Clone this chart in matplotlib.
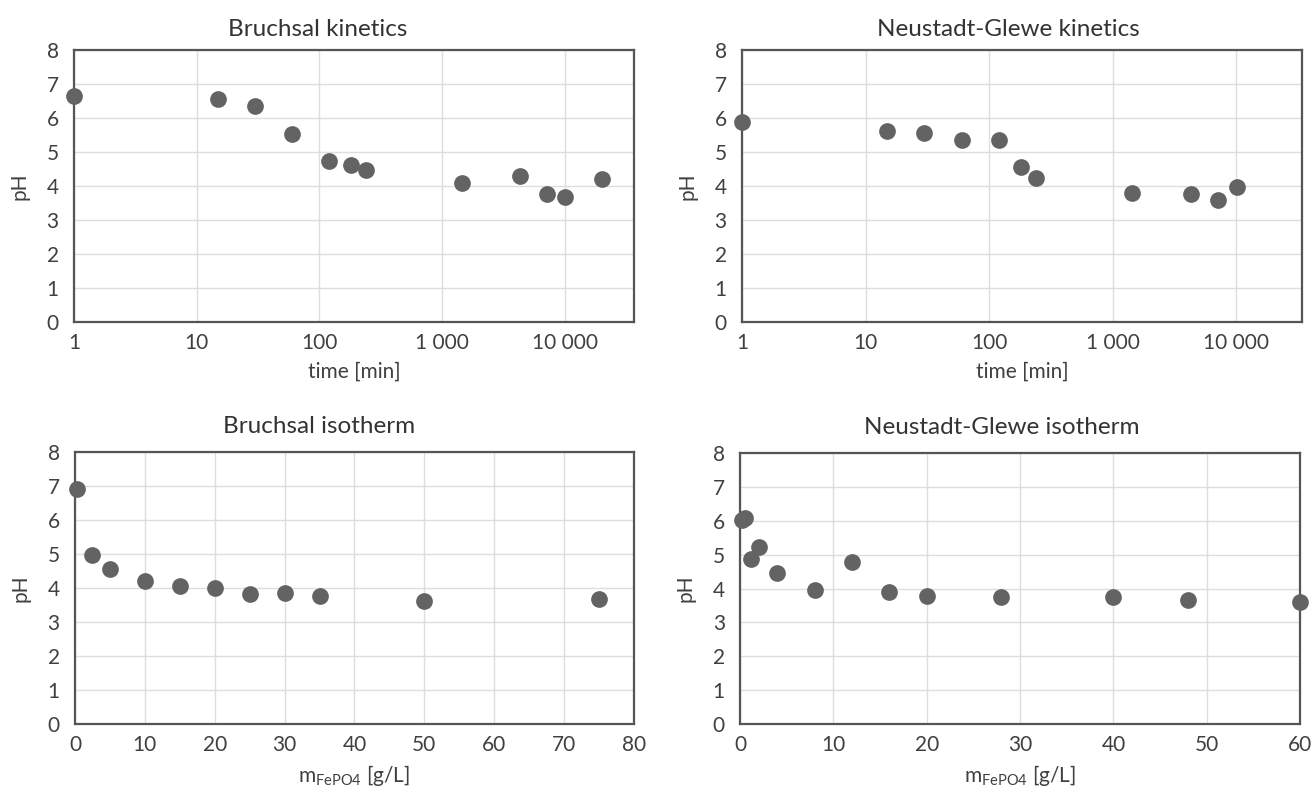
import matplotlib
matplotlib.use("Agg")
import matplotlib.pyplot as plt

plt.rcParams['font.family'] = ['Lato', 'DejaVu Sans']

# kinetics data (time in min, pH)
bru_kin_t = [1, 15, 30, 60, 120, 180, 240, 1440, 4320, 7200, 10080, 20160]
bru_kin_ph = [6.66, 6.55, 6.34, 5.53, 4.73, 4.62, 4.48, 4.08, 4.28, 3.77, 3.67, 4.21]

neu_kin_t = [1, 15, 30, 60, 120, 180, 240, 1440, 4320, 7200, 10080]
neu_kin_ph = [5.87, 5.62, 5.57, 5.35, 5.34, 4.56, 4.24, 3.78, 3.76, 3.59, 3.97]

# isotherm data (m FePO4 in g/L, pH)
bru_iso_m = [0.3, 2.5, 5, 10, 15, 20, 25, 30, 35, 50, 75]
bru_iso_ph = [6.92, 4.96, 4.57, 4.22, 4.05, 3.99, 3.83, 3.84, 3.75, 3.62, 3.69]

neu_iso_m = [0.2, 0.5, 1.2, 2, 4, 8, 12, 16, 20, 28, 40, 48, 60]
neu_iso_ph = [6.02, 6.07, 4.86, 5.23, 4.46, 3.96, 4.78, 3.91, 3.79, 3.75, 3.74, 3.66, 3.6]

log_ticks = [1, 10, 100, 1000, 10000]
log_labels = ['1', '10', '100', '1 000', '10 000']

dot_color = '#636363'
text_color = '#404040'

fig = plt.figure(figsize=(13.11, 7.91), dpi=100)

ax_tl = fig.add_axes([0.0564, 0.5929, 0.4272, 0.3439])
ax_tr = fig.add_axes([0.5660, 0.5929, 0.4272, 0.3439])
ax_bl = fig.add_axes([0.0572, 0.0847, 0.4264, 0.3439])
ax_br = fig.add_axes([0.5645, 0.0847, 0.4272, 0.3426])


def style(ax, title, xlabel, tx, tpad):
    ax.set_ylim(0, 8)
    ax.set_yticks(range(0, 9))
    ax.grid(True, color='#dedede', linewidth=1.0)
    ax.set_axisbelow(True)
    for s in ax.spines.values():
        s.set_color('#555555')
        s.set_linewidth(1.6)
    ax.tick_params(length=0, labelsize=15, labelcolor=text_color)
    ax.tick_params(axis='y', pad=11)
    ax.tick_params(axis='x', pad=8)
    ax.set_title(title, fontsize=17.5, color='#333333', pad=tpad, x=tx)
    ax.set_ylabel('pH', fontsize=15, color=text_color, labelpad=12)
    ax.set_xlabel(xlabel, fontsize=15, color=text_color, labelpad=6)


for ax, t, ph, xmax, title, tx in [
        (ax_tl, bru_kin_t, bru_kin_ph, 36500, 'Bruchsal kinetics', 0.436),
        (ax_tr, neu_kin_t, neu_kin_ph, 34200, 'Neustadt-Glewe kinetics', 0.475)]:
    ax.scatter(t, ph, s=145, color=dot_color, zorder=3, clip_on=False, linewidths=0)
    ax.set_xscale('log')
    ax.set_xlim(1, xmax)
    ax.set_xticks(log_ticks)
    ax.set_xticklabels(log_labels)
    ax.minorticks_off()
    style(ax, title, 'time [min]', tx, 10)

mlabel = r'm$_\mathregular{FePO4}$ [g/L]'

ax_bl.scatter(bru_iso_m, bru_iso_ph, s=145, color=dot_color, zorder=3, clip_on=False, linewidths=0)
ax_bl.set_xlim(0, 80)
ax_bl.set_xticks(range(0, 81, 10))
style(ax_bl, 'Bruchsal isotherm', mlabel, 0.436, 14)

ax_br.scatter(neu_iso_m, neu_iso_ph, s=145, color=dot_color, zorder=3, clip_on=False, linewidths=0)
ax_br.set_xlim(0, 60)
ax_br.set_xticks(range(0, 61, 10))
style(ax_br, 'Neustadt-Glewe isotherm', mlabel, 0.468, 14)

fig.savefig('out.png', dpi=100)
